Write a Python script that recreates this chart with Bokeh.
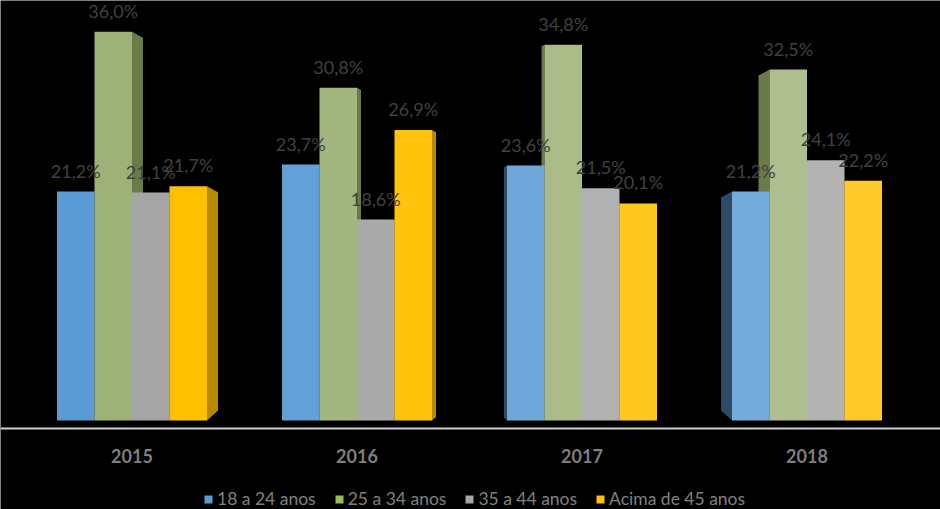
from bokeh.plotting import figure
from bokeh.models import Range1d, Legend, LegendItem, ColumnDataSource, Span
from bokeh.core.properties import value
from bokeh.embed import file_html
from bokeh.resources import INLINE

years = ["2015", "2016", "2017", "2018"]
series = ["18 a 24 anos", "25 a 34 anos", "35 a 44 anos", "Acima de 45 anos"]
v_18_24 = [21.2, 23.7, 23.6, 21.2]
v_25_34 = [36.0, 30.8, 34.8, 32.5]
v_35_44 = [21.1, 18.6, 21.5, 24.1]
v_45 = [21.7, 26.9, 20.1, 22.2]
values = [v_18_24, v_25_34, v_35_44, v_45]

base_colors = [(91, 155, 213), (158, 178, 120), (165, 165, 165), (255, 192, 0)]
legend_colors = ["#5B9BD5", "#9BBB59", "#A5A5A5", "#FFC000"]
side_colors = ["#2D4B66", "#6A7A48", "#777777", "#B58A00"]
depth_px = [11, 4, -3, -11]        # perspective side-face depth per group (style)
lighten = [0.0, 0.05, 0.12, 0.16]  # lighting per group (style)

def shade(rgb, t):
    r, g, b = [int(round(c + (255 - c) * t)) for c in rgb]
    return "#%02X%02X%02X" % (r, g, b)

PX_X = 225.0   # pixels per category unit
PX_Y = 10.8    # pixels per percent
W = 1.0 / 6.0

p = figure(width=940, height=509, output_backend="svg", toolbar_location=None,
           x_range=Range1d(-131.5 / PX_X, -131.5 / PX_X + 940 / PX_X),
           y_range=Range1d(-89 / PX_Y, 420 / PX_Y),
           min_border=0,
           background_fill_color="black", border_fill_color="black",
           outline_line_color=None)
p.grid.visible = False
p.axis.visible = False

# side faces (drawn first, front faces cover them)
xs_all, ys_all, cs_all = [], [], []
for k in range(4):
    for i in range(4):
        v = values[k][i]
        d = depth_px[i]
        dx = d / PX_X
        a = abs(d) * 0.55 / PX_Y
        b = abs(d) * 0.9 / PX_Y
        if d >= 0:
            edge = i + (k - 1.5) * W + W / 2
        else:
            edge = i + (k - 1.5) * W - W / 2
        xs_all.append([edge, edge + dx, edge + dx, edge])
        ys_all.append([v, v - a, b, 0])
        cs_all.append(side_colors[k])
p.patches(xs=xs_all, ys=ys_all, fill_color=cs_all, line_color=None)

renderers = []
for k in range(4):
    src = ColumnDataSource(dict(
        x=[i + (k - 1.5) * W for i in range(4)],
        top=values[k],
        color=[shade(base_colors[k], lighten[i]) for i in range(4)],
    ))
    r = p.vbar(x="x", top="top", bottom=0, width=W, source=src,
               fill_color="color", line_color=None)
    renderers.append(r)

for k in range(4):
    src = ColumnDataSource(dict(
        x=[i + (k - 1.5) * W for i in range(4)],
        y=values[k],
        lab=[("%.1f%%" % v).replace(".", ",") for v in values[k]],
    ))
    p.text(x="x", y="y", text="lab", source=src, text_align="center",
           text_baseline="middle", y_offset=-21, text_color="#404040",
           text_font=value("Lato"), text_font_size="18px")

# category axis (line + labels)
p.add_layout(Span(location=-8 / PX_Y, dimension="width",
                  line_color="#D0D0D0", line_width=2))
p.text(x=list(range(len(years))), y=[0] * len(years), text=years,
       y_offset=35, text_align="center", text_baseline="middle",
       text_color="#7F7F7F", text_font=value("Lato"),
       text_font_style="bold", text_font_size="18px")

# legend swatches use the base series colours
legend_renderers = []
for k in range(4):
    lr = p.vbar(x=[0], top=[0], bottom=0, width=0, fill_color=legend_colors[k],
                line_color=None)
    legend_renderers.append(lr)

legend = Legend(items=[LegendItem(label=s, renderers=[r])
                       for s, r in zip(series, legend_renderers)],
                orientation="horizontal", location=(203, 0),
                background_fill_alpha=0, border_line_color=None,
                label_text_color="#808080",
                label_text_font="Lato", label_text_font_size="17.5px",
                glyph_width=10, glyph_height=10, label_standoff=4, spacing=18,
                padding=0, margin=0)
p.add_layout(legend, "center")

open("out.html", "w").write(file_html(p, INLINE))
